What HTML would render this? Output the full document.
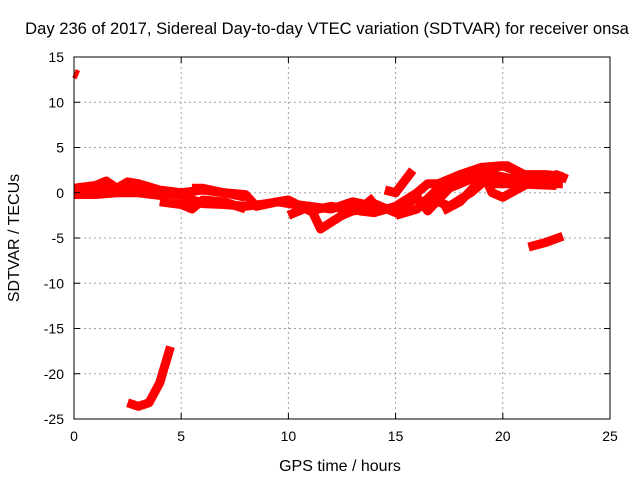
<!DOCTYPE html>
<html><head><meta charset="utf-8"><style>
body{margin:0;background:#fff}
svg text{font-family:"Liberation Sans",sans-serif;font-size:14px;fill:#000}
</style></head><body>
<svg id="chart" width="640" height="480" viewBox="0 0 640 480">
<text x="327" y="34" text-anchor="middle" style="font-size:16.6px">Day 236 of 2017, Sidereal Day-to-day VTEC variation (SDTVAR) for receiver onsa</text>
<text x="340" y="471" text-anchor="middle" style="font-size:16px">GPS time / hours</text>
<text transform="translate(19,238) rotate(-90)" text-anchor="middle" style="font-size:16px">SDTVAR / TECUs</text>
<g id="grid"></g><g id="marks"></g><g id="axes"></g>
</svg>
<script>
const xTicks=[0,5,10,15,20,25];
const yTicks=[15,10,5,0,-5,-10,-15,-20,-25];
const trackA=[[0,0.5],[1,0.8],[1.5,1.3],[2,0.5],[2.5,1.2],[3,1],[4,0.3],[5,0],[6,0.3],[7,0],[8,-0.5]];
const trackB=[[0,-0.2],[1,-0.2],[2,0],[3,0],[4,-0.3],[4.5,0]];
const trackC=[[4,-1],[5,-1.3],[5.5,-1.8],[6,-0.8],[7,-1],[8,-1.8]];
const trackD=[[5.5,0.5],[6,0.5],[7,0],[8,-0.2],[8.5,-1.5],[9.5,-1],[10,-1.2],[11,-1.5],[12,-1.8],[13,-1],[14,-1.5],[15,-2]];
const trackE=[[10,-2.5],[11,-1.5],[11.5,-4],[12.5,-2.5],[13.5,-1.5],[14,-0.5]];
const trackF=[[14.5,0.3],[15,0],[15.8,2.5]];
const trackG=[[13.3,-2],[14,-2.2],[15,-1.5],[16,0],[16.5,1],[17,1],[18,2],[19,2.8],[20,3],[20.5,2.5],[21,1],[22,1],[22.8,1]];
const trackH=[[15,-2.5],[16,-1.8],[17,0.5],[18,1.5],[19,2.5],[19.5,0],[20,-0.5],[21,0.8],[21.5,1.8],[22,1.2],[22.5,2],[23,1.5]];
const trackI=[[16.5,-0.5],[17.5,-1.5],[18.5,0],[19.5,2],[20.5,1.5],[21.5,1.5]];
const trackJ=[[17.2,-2],[18,-1],[19,1.5],[19.5,2.8],[20.2,3],[21,2],[22,2],[22.8,1.8]];
const trackK=[[21.2,-6],[22,-5.5],[22.8,-4.8]];
const trackL=[[0,13.2],[0.2,13]];
const trackM=[[2.5,-23.2],[3,-23.6],[3.5,-23.2],[4,-21],[4.5,-17]];
const trackN=[[0,0.2],[1,0.3],[2,0.2],[3,0.5],[4,0],[5,-0.3],[6,-1.2],[7,-1.3],[8,-1.5],[9,-1.2],[10,-0.8],[11,-2],[12,-1.5],[13,-2],[14,-1.8]];
const trackO=[[14,-1.2],[15,-2.2],[16,-0.5],[16.5,-2],[17.5,0.5],[18.5,1.5],[19.5,1],[20.5,1],[22.5,0.8]];
const tracks=[trackA,trackB,trackC,trackD,trackE,trackF,trackG,trackH,trackI,trackJ,trackK,trackL,trackM,trackN,trackO];
const L=74,R=610,T=57,B=419;
const sx=h=>L+(h-0)/(25-0)*(R-L);
const sy=v=>B-(v+25)/(40)*(B-T);
const NS="http://www.w3.org/2000/svg";
function mk(tag,attrs,parent){const e=document.createElementNS(NS,tag);for(const k in attrs)e.setAttribute(k,attrs[k]);parent.appendChild(e);return e;}
const grid=document.getElementById('grid'),marks=document.getElementById('marks'),axes=document.getElementById('axes');
xTicks.forEach(t=>{const x=sx(t);
 if(t>0&&t<25){const g=mk('line',{x1:x,x2:x,y1:T,y2:B,stroke:'#a0a0a0','stroke-dasharray':'2,3'},grid);
 
 }
 mk('line',{x1:x,x2:x,y1:B,y2:B-6,stroke:'#000'},axes);mk('line',{x1:x,x2:x,y1:T,y2:T+6,stroke:'#000'},axes);
 const tx=mk('text',{x:x,y:B+22,'text-anchor':'middle'},axes);tx.textContent=t;
 
 
});
yTicks.forEach(t=>{const y=sy(t);
 if(t>-25&&t<15){const g=mk('line',{x1:L,x2:R,y1:y,y2:y,stroke:'#a0a0a0','stroke-dasharray':'2,3'},grid);
 
 }
 mk('line',{x1:L,x2:L+6,y1:y,y2:y,stroke:'#000'},axes);mk('line',{x1:R,x2:R-6,y1:y,y2:y,stroke:'#000'},axes);
 const tx=mk('text',{x:L-10,y:y+5,'text-anchor':'end'},axes);tx.textContent=t;
 
 
});
const bd=mk('rect',{x:L,y:T,width:R-L,height:B-T,fill:'none',stroke:'#000'},axes);


tracks.forEach(tr=>{
 const p=mk('polyline',{points:tr.map(d=>sx(d[0])+','+sy(d[1])).join(' '),fill:'none',stroke:'#ff0000','stroke-width':9,'stroke-linejoin':'round','stroke-linecap':'butt'},marks);
 
 
});
</script>
</body></html>
